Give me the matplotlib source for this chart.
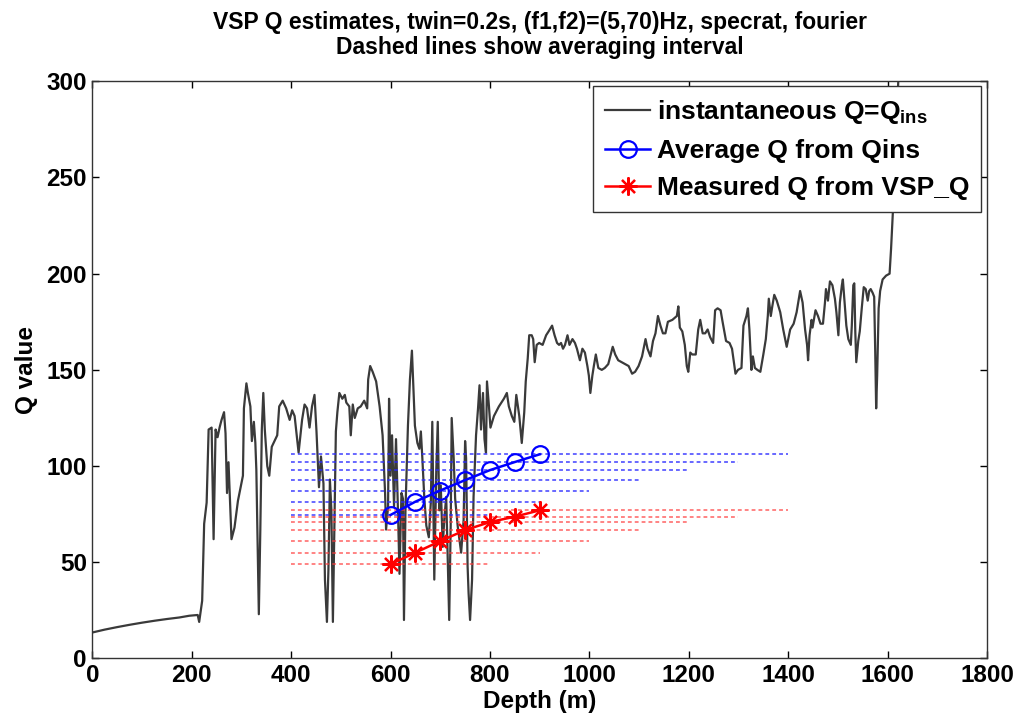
import matplotlib
matplotlib.use("Agg")
import matplotlib.pyplot as plt

plt.rcParams['font.family'] = ['Liberation Sans', 'DejaVu Sans']
plt.rcParams['font.weight'] = 'bold'
plt.rcParams['mathtext.fontset'] = 'custom'
plt.rcParams['mathtext.rm'] = 'Liberation Sans:bold'
plt.rcParams['mathtext.bf'] = 'Liberation Sans:bold'
plt.rcParams['mathtext.it'] = 'Liberation Sans:bold'

# ---- data ----
depth_ins = [0, 25, 50, 75, 100, 125, 150, 175, 195, 212, 215, 221, 225, 230, 234, 240, 244, 248, 252, 256,
             260, 265, 268, 271, 274, 277, 280, 286, 293, 303, 305, 310, 313, 318, 321, 325, 328, 330, 332, 335,
             338, 341, 344, 347, 352, 356, 361, 372, 376, 383, 390, 397, 402, 407, 415, 422, 427, 432, 437, 442,
             447, 451, 456, 460, 465, 468, 472, 475, 478, 481, 484, 487, 490, 493, 497, 503, 508, 511, 517, 520,
             524, 528, 534, 540, 547, 553, 555, 559, 564, 571, 578, 584, 589, 591, 595, 597, 600, 603, 607, 611,
             615, 618, 622, 625, 627, 630, 635, 639, 643, 649, 654, 658, 661, 664, 668, 672, 677, 681, 684, 686,
             688, 692, 695, 698, 701, 705, 708, 712, 715, 718, 721, 723, 727, 730, 735, 742, 747, 750, 752, 755,
             757, 760, 764, 767, 772, 776, 779, 782, 786, 789, 792, 794, 798, 801, 808, 818, 828, 834, 838, 844,
             849, 853, 859, 864, 869, 872, 876, 879, 884, 887, 890, 894, 899, 906, 913, 918, 925, 930, 935, 939,
             943, 947, 951, 956, 960, 966, 971, 975, 981, 986, 991, 996, 999, 1002, 1006, 1009, 1013, 1018, 1025, 1031,
             1038, 1043, 1047, 1052, 1058, 1065, 1079, 1086, 1092, 1099, 1106, 1113, 1117, 1123, 1128, 1133, 1138, 1143, 1148, 1153,
             1158, 1167, 1176, 1179, 1182, 1187, 1192, 1196, 1199, 1203, 1207, 1214, 1219, 1223, 1228, 1233, 1238, 1243, 1249, 1253,
             1258, 1264, 1268, 1275, 1282, 1287, 1294, 1299, 1306, 1310, 1316, 1319, 1322, 1326, 1329, 1333, 1338, 1344, 1350, 1355,
             1359, 1361, 1365, 1368, 1372, 1377, 1384, 1390, 1397, 1404, 1411, 1417, 1424, 1429, 1434, 1438, 1440, 1443, 1447, 1449,
             1455, 1460, 1465, 1470, 1474, 1476, 1480, 1484, 1489, 1494, 1497, 1501, 1504, 1508, 1510, 1513, 1517, 1521, 1526, 1528,
             1531, 1533, 1535, 1537, 1541, 1544, 1548, 1552, 1556, 1560, 1563, 1566, 1570, 1573, 1575, 1577, 1579, 1582, 1585, 1590,
             1597, 1604, 1607, 1611, 1618, 1625]
q_ins = [13.5, 15, 16.3, 17.5, 18.6, 19.6, 20.5, 21.3, 22.2, 22.6, 19, 30, 70, 81, 119, 120, 62, 119, 115, 120,
         124, 128, 117, 86, 102, 82, 62, 68, 82, 95, 130, 143, 138, 131, 113, 123, 112, 98, 67, 23,
         67, 119, 138, 119, 100, 95, 110, 116, 131, 134, 130, 124, 129, 126, 107, 124, 132, 130, 120, 131,
         137, 118, 89, 105, 91, 41, 19, 46, 93, 77, 19, 70, 118, 128, 138, 135, 137, 133, 131, 116,
         132, 125, 130, 131, 134, 130, 145, 152, 149, 144, 131, 116, 86, 67, 79, 135, 95, 116, 79, 114,
         76, 44, 86, 83, 20, 77, 121, 145, 160, 121, 112, 109, 118, 104, 83, 69, 63, 81, 123, 83,
         41, 98, 123, 77, 90, 58, 72, 84, 51, 20, 69, 125, 104, 83, 69, 55, 72, 113, 104, 48,
         34, 20, 41, 84, 116, 130, 142, 119, 138, 114, 107, 144, 131, 120, 126, 131, 135, 138, 131, 126,
         123, 137, 126, 112, 128, 144, 156, 168, 168, 166, 154, 163, 164, 163, 168, 170, 173, 168, 164, 163,
         164, 161, 163, 168, 163, 166, 164, 161, 155, 161, 159, 152, 147, 138, 147, 152, 158, 151, 150, 151,
         153, 158, 162, 158, 155, 154, 152, 148, 149, 152, 157, 166, 161, 157, 165, 169, 178, 173, 169, 169,
         175, 176, 178, 183, 172, 170, 163, 152, 149, 159, 158, 158, 171, 176, 169, 169, 171, 167, 164, 181,
         182, 181, 175, 165, 164, 161, 148, 150, 151, 173, 178, 182, 171, 150, 157, 151, 150, 149, 158, 166,
         178, 187, 178, 183, 189, 186, 180, 171, 162, 171, 174, 180, 191, 185, 171, 163, 155, 168, 176, 172,
         181, 178, 174, 174, 185, 192, 186, 196, 194, 187, 180, 168, 185, 194, 197, 187, 173, 166, 163, 173,
         194, 195, 170, 154, 165, 170, 182, 193, 192, 186, 191, 192, 190, 188, 161, 130, 147, 182, 191, 197,
         199, 200, 213, 234, 280, 320]

avg_depth = [600, 650, 700, 750, 800, 850, 900]
avg_q = [74.6, 81.5, 87.3, 92.7, 97.9, 102.1, 106.1]
meas_q = [49, 55, 61, 66.7, 70.9, 73.7, 77]
interval_start = [400, 400, 400, 400, 400, 400, 400]
interval_end = [800, 900, 1000, 1100, 1200, 1300, 1400]

title_lines = ["VSP Q estimates, twin=0.2s, (f1,f2)=(5,70)Hz, specrat, fourier",
               "Dashed lines show averaging interval"]
xticks = [0, 200, 400, 600, 800, 1000, 1200, 1400, 1600, 1800]
yticks = [0, 50, 100, 150, 200, 250, 300]

# ---- plot ----
fig = plt.figure(figsize=(10.19, 7.22), dpi=100)
ax = fig.add_axes([0.0906, 0.0880, 0.8780, 0.7994])

ax.plot(depth_ins, q_ins, color='#3a3a3a', lw=1.6, label=r'instantaneous Q=Q$_{\mathbf{ins}}$', zorder=2)

for s, e, q in zip(interval_start, interval_end, avg_q):
    ax.plot([s, e], [q, q], color='#2a2aff', lw=1.1, ls=(0, (2.5, 2)), alpha=0.9, zorder=3)
for s, e, q in zip(interval_start, interval_end, meas_q):
    ax.plot([s, e], [q, q], color='#ff3a3a', lw=1.1, ls=(0, (2.5, 2)), alpha=0.8, zorder=3)

ax.plot(avg_depth, avg_q, color='blue', marker='o', ms=12, mfc='none', mec='blue', mew=1.6, lw=1.8,
        label='Average Q from Qins', zorder=4)
ax.plot(avg_depth, meas_q, color='red', marker=(8, 2, 0), ms=13, mfc='red', mec='red', mew=1.6, lw=1.8,
        label='Measured Q from VSP_Q', zorder=4)

ax.set_xlim(0, 1800)
ax.set_ylim(0, 300)
ax.set_xticks(xticks)
ax.set_yticks(yticks)
ax.tick_params(direction='in', top=True, right=True, length=5, width=1, labelsize=17.5, pad=4)
for lab in ax.get_xticklabels() + ax.get_yticklabels():
    lab.set_fontweight('bold')
for sp in ax.spines.values():
    sp.set_linewidth(1.0)
    sp.set_color('#333333')

ax.set_xlabel('Depth (m)', fontsize=17.5, fontweight='bold', labelpad=2)
ax.set_ylabel('Q value', fontsize=17.5, fontweight='bold', labelpad=6)
ax.set_title('\n'.join(title_lines), fontsize=16.5, fontweight='bold', pad=20, linespacing=1.1)

leg = ax.legend(loc='upper right', bbox_to_anchor=(981 / 1019, 1 - 86 / 722), bbox_transform=fig.transFigure,
                fontsize=19, frameon=True, fancybox=False, framealpha=1,
                edgecolor='#333333', handlelength=1.7, handletextpad=0.25, borderpad=0.45,
                labelspacing=0.5, borderaxespad=0.0)
leg.get_frame().set_linewidth(1.0)
leg.set_zorder(10)
for t in leg.get_texts():
    t.set_fontweight('bold')

fig.savefig('out.png', dpi=100)
